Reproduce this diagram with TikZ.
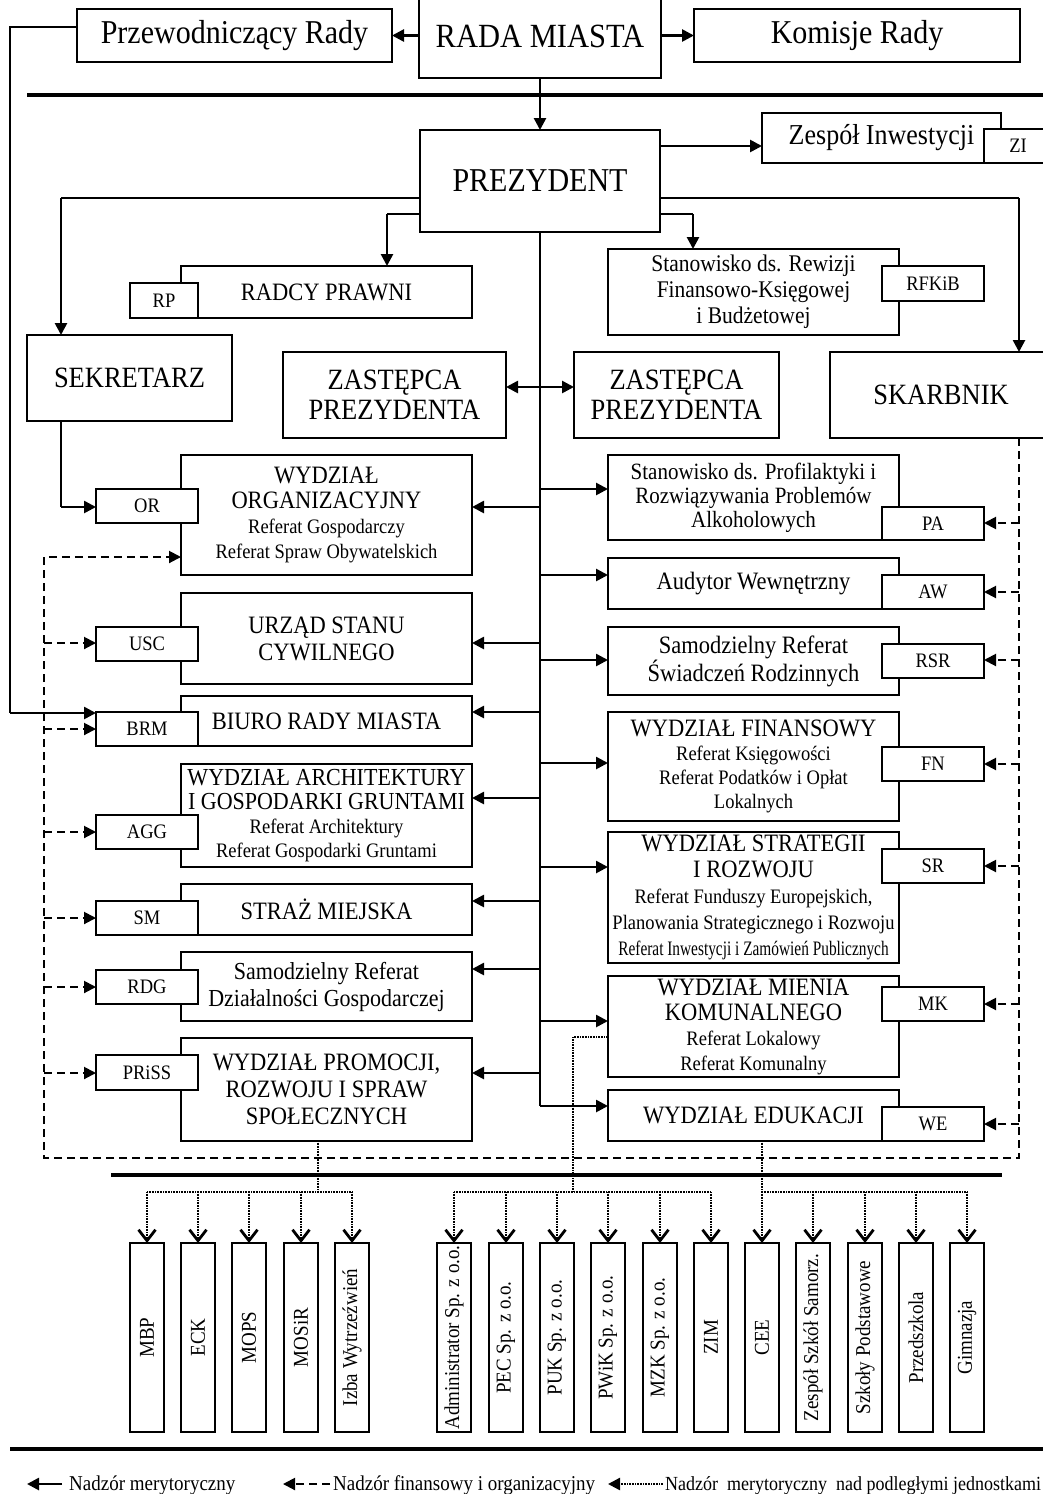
\documentclass[tikz,border=0pt]{standalone}
\usepackage{fontspec}
\setmainfont{Liberation Serif}[FakeStretch=0.9]
\usepackage{graphicx}
\usetikzlibrary{arrows.meta}
\newcommand\fs[2]{\fontsize{\fpeval{#1/0.9}}{#2}\selectfont}
\newcommand\sm{\fs{18.5}{22}}
\begin{document}
\begin{tikzpicture}[x=1pt,y=-1pt,
 box/.style={draw, line width=1.3pt, fill=white, align=center, inner sep=0pt, outer sep=0pt},
 tag/.style={box, font=\fs{18.5}{21}},
 unit/.style={box, minimum width=34pt, minimum height=189pt, font=\fs{19}{21}},
 arr/.style={line width=2.6pt, -{Triangle[length=12pt,width=12pt]}},
 thinln/.style={line width=1.5pt},
 darr/.style={line width=2pt, dash pattern=on 8pt off 5pt, -{Triangle[length=12pt,width=12pt]}},
 dotln/.style={line width=2.4pt, dash pattern=on 0.8pt off 0.8pt},
 dotarr/.style={dotln, -{Straight Barb[length=11pt,width=17pt,line width=2.8pt]}},
 sep/.style={line width=4pt},
 legend/.style={anchor=base west, inner sep=0pt, font=\fs{19}{21}},
]
\useasboundingbox (0,0) rectangle (1043,1494);
\fill[white] (0,0) rectangle (1043,1494);

% ---------- top ----------
\node[box, minimum width=315pt, minimum height=53pt, font=\fs{30}{34}] (przew) at (234.5,35.5) {Przewodniczący Rady};
\node[box, minimum width=242pt, minimum height=84pt, font=\fs{30.5}{34}] (rada) at (540,36) {RADA MIASTA};
\node[box, minimum width=326pt, minimum height=53pt, font=\fs{30}{34}] (kom) at (857,35.5) {Komisje Rady};
\draw[arr] (rada.west |- przew.east) -- (przew.east);
\draw[arr] (rada.east |- kom.west) -- (kom.west);
\draw[sep] (27,95) -- (1043,95);

\node[box, minimum width=240pt, minimum height=102pt, font=\fs{30}{34}] (prez) at (540,181) {PREZYDENT};
\draw[arr] (rada.south) -- (prez.north);

\node[box, minimum width=239pt, minimum height=50pt, font=\fs{26}{30}] (zi) at (881.5,138) {Zespół Inwestycji};
\node[tag, minimum width=68pt, minimum height=34pt] (zitag) at (1018,146) {ZI};

\node[box, minimum width=291pt, minimum height=52pt, font=\fs{22.5}{26}] (radcy) at (326.5,292) {RADCY PRAWNI};
\node[tag, minimum width=68pt, minimum height=35pt] (rp) at (164,300.5) {RP};
\node[box, minimum width=291pt, minimum height=86pt, font=\fs{21.5}{26}] (rew) at (753.5,292) {Stanowisko ds. Rewizji\\Finansowo-Księgowej\\i Budżetowej};
\node[tag, minimum width=102pt, minimum height=35pt] (rfkib) at (933,283.5) {RFKiB};

\node[box, minimum width=205pt, minimum height=86pt, font=\fs{26.5}{30}] (sek) at (129.5,378) {SEKRETARZ};
\node[box, minimum width=223pt, minimum height=86pt, font=\fs{26.5}{30}] (zas1) at (394.5,395) {ZASTĘPCA\\PREZYDENTA};
\node[box, minimum width=205pt, minimum height=86pt, font=\fs{26.5}{30}] (zas2) at (676.5,395) {ZASTĘPCA\\PREZYDENTA};
\node[box, minimum width=222pt, minimum height=86pt, font=\fs{26.5}{30}] (skarb) at (941,395) {SKARBNIK};
\draw[arr, {Triangle[length=12pt,width=12pt]}-{Triangle[length=12pt,width=12pt]}] ([yshift=8pt]zas1.east) -- ([yshift=8pt]zas2.west);

% connectors from PREZYDENT
\coordinate (a1) at (660,146);
\draw[arr] (a1) -- (a1 -| zi.west);
\coordinate (a2) at (660,198); \coordinate (a3) at (1019,198);
\draw[thinln] (a2) -- (a3);
\draw[arr] (a3) -- (a3 |- skarb.north);
\coordinate (a4) at (660,214); \coordinate (a5) at (693,214);
\draw[thinln] (a4) -- (a5);
\draw[arr] (a5) -- (a5 |- rew.north);
\coordinate (a6) at (420,198); \coordinate (a7) at (61,198);
\draw[thinln] (a6) -- (a7);
\draw[arr] (a7) -- (a7 |- sek.north);
\coordinate (a8) at (420,214); \coordinate (a9) at (387,214);
\draw[thinln] (a8) -- (a9);
\draw[arr] (a9) -- (a9 |- radcy.north);

% ---------- left column ----------
\node[box, minimum width=291pt, minimum height=120pt, font=\fs{22.5}{25}] (org) at (326.5,515) {WYDZIAŁ\\ORGANIZACYJNY\\\sm Referat Gospodarczy\\\sm Referat Spraw Obywatelskich};
\node[tag, minimum width=102pt, minimum height=34pt] (ortag) at (147,506) {OR};
\node[box, minimum width=291pt, minimum height=91pt, font=\fs{22.5}{27}] (usc) at (326.5,638.5) {URZĄD STANU\\CYWILNEGO};
\node[tag, minimum width=102pt, minimum height=34pt] (usctag) at (147,644) {USC};
\node[box, minimum width=291pt, minimum height=50pt, font=\fs{22.5}{26}] (brm) at (326.5,721) {BIURO RADY MIASTA};
\node[tag, minimum width=102pt, minimum height=34pt] (brmtag) at (147,729) {BRM};
\node[box, minimum width=291pt, minimum height=103pt, font=\fs{22}{24}] (agg) at (326.5,815.5) {WYDZIAŁ ARCHITEKTURY\\I GOSPODARKI GRUNTAMI\\\sm Referat Architektury\\\sm Referat Gospodarki Gruntami};
\node[tag, minimum width=102pt, minimum height=34pt] (aggtag) at (147,832) {AGG};
\node[box, minimum width=291pt, minimum height=51pt, font=\fs{22.5}{26}] (sm) at (326.5,909.5) {STRAŻ MIEJSKA};
\node[tag, minimum width=102pt, minimum height=34pt] (smtag) at (147,918) {SM};
\node[box, minimum width=291pt, minimum height=69pt, font=\fs{22}{27}] (rdg) at (326.5,986.5) {Samodzielny Referat\\Działalności Gospodarczej};
\node[tag, minimum width=102pt, minimum height=34pt] (rdgtag) at (147,987) {RDG};
\node[box, minimum width=291pt, minimum height=103pt, font=\fs{22.5}{27}] (pro) at (326.5,1089.5) {WYDZIAŁ PROMOCJI,\\ROZWOJU I SPRAW\\SPOŁECZNYCH};
\node[tag, minimum width=102pt, minimum height=35pt] (pristag) at (147,1072.5) {PRiSS};

% ---------- right column ----------
\node[box, minimum width=291pt, minimum height=85pt, font=\fs{21}{24}] (pa) at (753.5,497.5) {Stanowisko ds. Profilaktyki i\\Rozwiązywania Problemów\\Alkoholowych};
\node[tag, minimum width=102pt, minimum height=33pt] (patag) at (933,523.5) {PA};
\node[box, minimum width=291pt, minimum height=51pt, font=\fs{22.5}{26}] (aw) at (753.5,583.5) {Audytor Wewnętrzny};
\node[tag, minimum width=102pt, minimum height=34pt] (awtag) at (933,592) {AW};
\node[box, minimum width=291pt, minimum height=68pt, font=\fs{22.5}{26}] (rsr) at (753.5,661) {Samodzielny Referat\\Świadczeń Rodzinnych};
\node[tag, minimum width=102pt, minimum height=34pt] (rsrtag) at (933,661) {RSR};
\node[box, minimum width=291pt, minimum height=109pt, font=\fs{22.5}{24}] (fn) at (753.5,766.5) {WYDZIAŁ FINANSOWY\\\sm Referat Księgowości\\\sm Referat Podatków i Opłat\\\sm Lokalnych};
\node[tag, minimum width=102pt, minimum height=34pt] (fntag) at (933,764) {FN};
\node[box, minimum width=291pt, minimum height=131pt, font=\fs{22.5}{26}] (sr) at (753.5,897.5) {WYDZIAŁ STRATEGII\\I ROZWOJU\\\sm Referat Funduszy Europejskich,\\\sm Planowania Strategicznego i Rozwoju\\\sm\scalebox{0.83}[1]{Referat Inwestycji i Zamówień Publicznych}};
\node[tag, minimum width=102pt, minimum height=34pt] (srtag) at (933,866) {SR};
\node[box, minimum width=291pt, minimum height=101pt, font=\fs{22.5}{25}] (mk) at (753.5,1026.5) {WYDZIAŁ MIENIA\\KOMUNALNEGO\\\sm Referat Lokalowy\\\sm Referat Komunalny};
\node[tag, minimum width=102pt, minimum height=34pt] (mktag) at (933,1004) {MK};
\node[box, minimum width=291pt, minimum height=51pt, font=\fs{22.5}{26}] (edu) at (753.5,1115.5) {WYDZIAŁ EDUKACJI};
\node[tag, minimum width=102pt, minimum height=34pt] (wetag) at (933,1124) {WE};

% main vertical line
\coordinate (mv) at (540,1106);
\draw[thinln] (prez.south) -- (mv);
\draw[arr] (mv) -- (mv -| edu.west);
\foreach \y/\n in {507/org,643/usc,712/brm,798/agg,901/sm,969/rdg,1073/pro}{
  \coordinate (L\n) at (540,\y);
  \draw[arr] (L\n) -- (L\n -| \n.east);
}
\foreach \y/\n in {489/pa,575/aw,660/rsr,763/fn,867/sr,1021/mk}{
  \coordinate (R\n) at (540,\y);
  \draw[arr] (R\n) -- (R\n -| \n.west);
}

% SEKRETARZ -> OR
\coordinate (s1) at (61,507);
\draw[thinln] (s1 |- sek.south) -- (s1);
\draw[arr] (s1) -- (s1 -| ortag.west);

% Przewodniczacy -> BRM
\coordinate (c1) at (10,27); \coordinate (c2) at (10,713);
\draw[thinln] (przew.west |- c1) -- (c1) -- (c2);
\draw[arr] (c2) -- (c2 -| brmtag.west);

% dashed (SKARBNIK)
\coordinate (d1) at (1019,1158); \coordinate (d2) at (44,1158); \coordinate (d3) at (44,557);
\draw[darr] (d1 |- skarb.south) -- (d1) -- (d2) -- (d3) -- (d3 -| org.west);
\foreach \y/\n in {523/patag,592/awtag,660/rsrtag,764/fntag,866/srtag,1004/mktag,1124/wetag}{
  \coordinate (D\n) at (1019,\y);
  \draw[darr] (D\n) -- (D\n -| \n.east);
}
\foreach \y/\n in {643/usctag,729/brmtag,832/aggtag,918/smtag,987/rdgtag,1073/pristag}{
  \coordinate (D\n) at (44,\y);
  \draw[darr] (D\n) -- (D\n -| \n.west);
}

% ---------- bottom units ----------
\draw[sep] (111,1175) -- (1002,1175);
\foreach \n/\x/\t in {mbp/147/MBP, eck/198/ECK, mops/249/MOPS, mosir/301/MOSiR, izba/352/Izba Wytrzeźwień,
  adm/454/Administrator Sp. z o.o., pec/506/PEC Sp. z o.o., puk/557/PUK Sp. z o.o., pwik/608/PWiK Sp. z o.o., mzk/660/MZK Sp. z o.o., zim/711/ZIM,
  cee/762/CEE, zss/813/Zespół Szkół Samorz., szp/865/Szkoły Podstawowe, prz/916/Przedszkola, gim/967/Gimnazja}{
  \node[unit] (\n) at (\x,1337.5) {\rotatebox{90}{\t}};
}

% dotted supervision
\coordinate (t1) at (318,1192);
\draw[dotln] (t1 |- pro.south) -- (t1);
\draw[dotln] (mbp.north |- t1) -- (izba.north |- t1);
\foreach \n in {mbp,eck,mops,mosir,izba}{\draw[dotarr] (\n.north |- t1) -- (\n.north);}

\coordinate (t2) at (573,1037); \coordinate (t2b) at (573,1192);
\draw[dotln] (t2 -| mk.west) -- (t2) -- (t2b);
\draw[dotln] (adm.north |- t2b) -- (zim.north |- t2b);
\foreach \n in {adm,pec,puk,pwik,mzk,zim}{\draw[dotarr] (\n.north |- t2b) -- (\n.north);}

\coordinate (t3) at (762,1192);
\draw[dotln] (t3 |- edu.south) -- (t3);
\draw[dotln] (cee.north |- t3) -- (gim.north |- t3);
\foreach \n in {cee,zss,szp,prz,gim}{\draw[dotarr] (\n.north |- t3) -- (\n.north);}

% ---------- legend ----------
\draw[sep] (10,1449) -- (1043,1449);
\coordinate (g1a) at (62,1484); \coordinate (g1b) at (27,1484);
\draw[arr] (g1a) -- (g1b);
\node[legend] (lg1) at (69,1490) {Nadzór merytoryczny};
\coordinate (g2a) at (330,1484); \coordinate (g2b) at (283,1484);
\draw[darr] (g2a) -- (g2b);
\node[legend] (lg2) at (333,1490) {Nadzór finansowy i organizacyjny};
\coordinate (g3a) at (663,1484); \coordinate (g3b) at (608,1484);
\draw[dotln, -{Triangle[length=12pt,width=12pt]}] (g3a) -- (g3b);
\node[legend, font=\fs{18}{20}] (lg3) at (665,1490) {Nadzór~ merytoryczny~ nad podległymi jednostkami};
\end{tikzpicture}
\end{document}
